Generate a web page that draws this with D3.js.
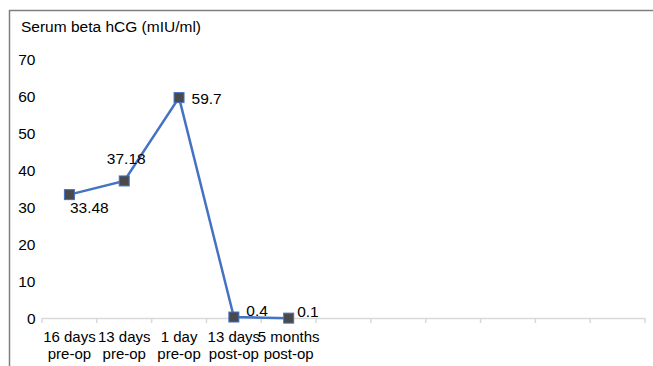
<!DOCTYPE html>
<html><head><meta charset="utf-8">
<script src="https://cdn.jsdelivr.net/npm/d3@7"></script>
<style>body{margin:0;background:#fff}svg{display:block}text{font-family:"Liberation Sans",Arial,sans-serif;fill:#000}</style>
</head><body><svg id="c" width="653" height="366"></svg>
<script>
const categories = ["16 days|pre-op","13 days|pre-op","1 day|pre-op","13 days|post-op","5 months|post-op","","","","","",""];
const values = [33.48, 37.18, 59.7, 0.4, 0.1];
const labels = ["33.48","37.18","59.7","0.4","0.1"];
const yTicks = [0,10,20,30,40,50,60,70];
const title = "Serum beta hCG (mIU/ml)";

const FS = 15.5;
const svg = d3.select("#c");
// frame
svg.append("path").attr("d","M9.5,366 V10.5 H653").attr("fill","none").attr("stroke","#7f7f7f").attr("stroke-width",1.5);

const x = d3.scaleBand().domain(d3.range(categories.length)).range([42,645]);
const y = d3.scaleLinear().domain([0,70]).range([318.5,59.5]);

svg.append("text").attr("x",21).attr("y",32).attr("font-size",FS).text(title);

// y labels
svg.selectAll(".yl").data(yTicks).join("text").attr("x",35.5).attr("y",d=>y(d)+5.5)
  .attr("text-anchor","end").attr("font-size",FS).text(d=>d);

// x axis
svg.append("line").attr("x1",42).attr("x2",645).attr("y1",318.5).attr("y2",318.5).attr("stroke","#d9d9d9").attr("stroke-width",1.5);
const bounds = d3.range(categories.length+1).map(i=> i<categories.length? x(i): x(categories.length-1)+x.bandwidth());
svg.selectAll(".xt").data(bounds).join("line").attr("x1",d=>d).attr("x2",d=>d).attr("y1",318).attr("y2",323)
  .attr("stroke","#d9d9d9").attr("stroke-width",1.5);

categories.forEach((c,i)=>{
  if(!c) return;
  const parts = c.split("|");
  parts.forEach((p,j)=>{
    svg.append("text").attr("x",x(i)+x.bandwidth()/2).attr("y",341.5+j*17).attr("text-anchor","middle").attr("font-size",15).text(p);
  });
});

const cx = i=>x(i)+x.bandwidth()/2;
svg.append("path").datum(values).attr("fill","none").attr("stroke","#4472C4").attr("stroke-width",2.5)
  .attr("d",d3.line().x((d,i)=>cx(i)).y(d=>y(d)));

svg.selectAll(".m").data(values).join("rect").attr("x",(d,i)=>cx(i)-5).attr("y",d=>y(d)-5)
  .attr("width",10).attr("height",10).attr("fill","#4a4a4a").attr("stroke","#4472C4").attr("stroke-width",1);

const offs = [[0.5,18,"start"],[2,-16.5,"middle"],[12.5,6.5,"start"],[12.5,-1.5,"start"],[8.5,-1,"start"]];
svg.selectAll(".dl").data(values).join("text")
  .attr("x",(d,i)=>cx(i)+offs[i][0]).attr("y",(d,i)=>y(d)+offs[i][1])
  .attr("text-anchor",(d,i)=>offs[i][2]).attr("font-size",FS).text((d,i)=>labels[i]);
</script></body></html>
